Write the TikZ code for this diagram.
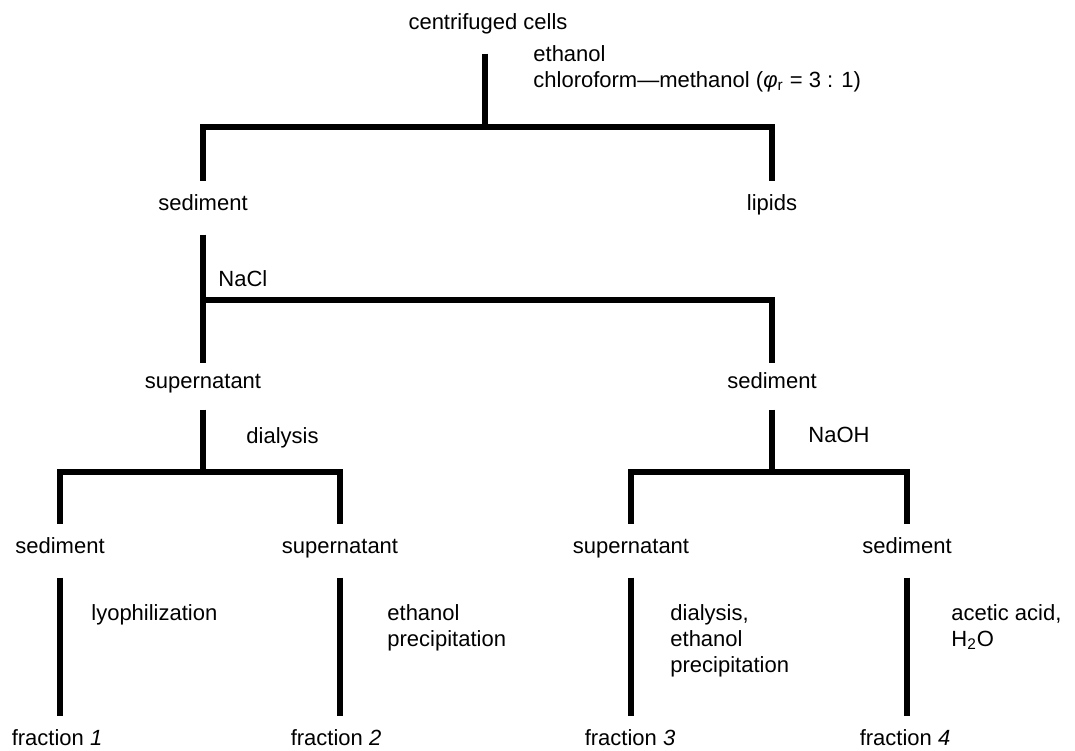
\documentclass[tikz,border=0pt]{standalone}
\usepackage{fontspec}
\setmainfont{Liberation Sans}
\tikzset{
  lbl/.style={font=\fontsize{11}{13}\selectfont, text height=8pt, text depth=2.5pt},
  cond/.style={font=\fontsize{11}{13}\selectfont, anchor=north west, inner sep=0pt, align=left},
  bar/.style={line width=2.7pt},
  stub/.style={bar, shorten >=3pt},
  stem/.style={bar, shorten <=6pt},
}
\begin{document}
\begin{tikzpicture}[x=0.5pt, y=-0.5pt]
\useasboundingbox (0,0) rectangle (1075,750);

% Starting material and extraction
\node[lbl] (cells) at (488,24) {centrifuged cells};
\node[cond] (extr) at (533,45) {ethanol\\chloroform—methanol (\textit{φ}\textsubscript{r} = 3 : 1)};
\node[lbl] (sed1) at (203,205) {sediment};
\node[lbl] (lip) at (772,205) {lipids};
\coordinate (j1) at (485,127);
\draw[stem] (cells.south -| j1) -- (j1);
\draw[stub] (j1) -| (sed1.north);
\draw[stub] (j1) -| (lip.north);

% NaCl step
\node[cond] (nacl) at (218,270) {NaCl};
\node[lbl] (sup1) at (203,383) {supernatant};
\node[lbl] (sed2) at (772,383) {sediment};
\coordinate (j2) at (203,300);
\draw[stem, shorten >=1pt] (sed1.south) -- (sup1.north);
\draw[bar, shorten >=1pt] (j2) -| (sed2.north);

% Dialysis of the supernatant
\node[cond] (dial) at (246,427) {dialysis};
\node[lbl] (sed3) at (60,548) {sediment};
\node[lbl] (sup3) at (340,548) {supernatant};
\coordinate (j3) at (203,472);
\draw[bar, shorten <=4.5pt] (sup1.south) -- (j3);
\draw[stub] (j3) -| (sed3.north);
\draw[stub] (j3) -| (sup3.north);

% NaOH treatment of the sediment
\node[cond] (naoh) at (808,427) {NaOH};
\node[lbl] (sup4) at (631,548) {supernatant};
\node[lbl] (sed4) at (907,548) {sediment};
\coordinate (j4) at (772,472);
\draw[bar, shorten <=4.5pt] (sed2.south) -- (j4);
\draw[stub] (j4) -| (sup4.north);
\draw[stub] (j4) -| (sed4.north);

% Fractions
\node[cond] (lyo) at (91,604) {lyophilization};
\node[cond] (eprec) at (387,604) {ethanol\\precipitation};
\node[cond] (dprec) at (670,604) {dialysis,\\ethanol\\precipitation};
\node[cond] (acid) at (951,604) {acetic acid,\\H\textsubscript{2}O};
\node[lbl] (fr1) at (57,740) {fraction \textit{1}};
\node[lbl] (fr2) at (336,740) {fraction \textit{2}};
\node[lbl] (fr3) at (630,740) {fraction \textit{3}};
\node[lbl] (fr4) at (905,740) {fraction \textit{4}};
\draw[stem, shorten >=3pt] (sed3.south) -- (sed3.south |- fr1.north);
\draw[stem, shorten >=3pt] (sup3.south) -- (sup3.south |- fr2.north);
\draw[stem, shorten >=3pt] (sup4.south) -- (sup4.south |- fr3.north);
\draw[stem, shorten >=3pt] (sed4.south) -- (sed4.south |- fr4.north);
\end{tikzpicture}
\end{document}
